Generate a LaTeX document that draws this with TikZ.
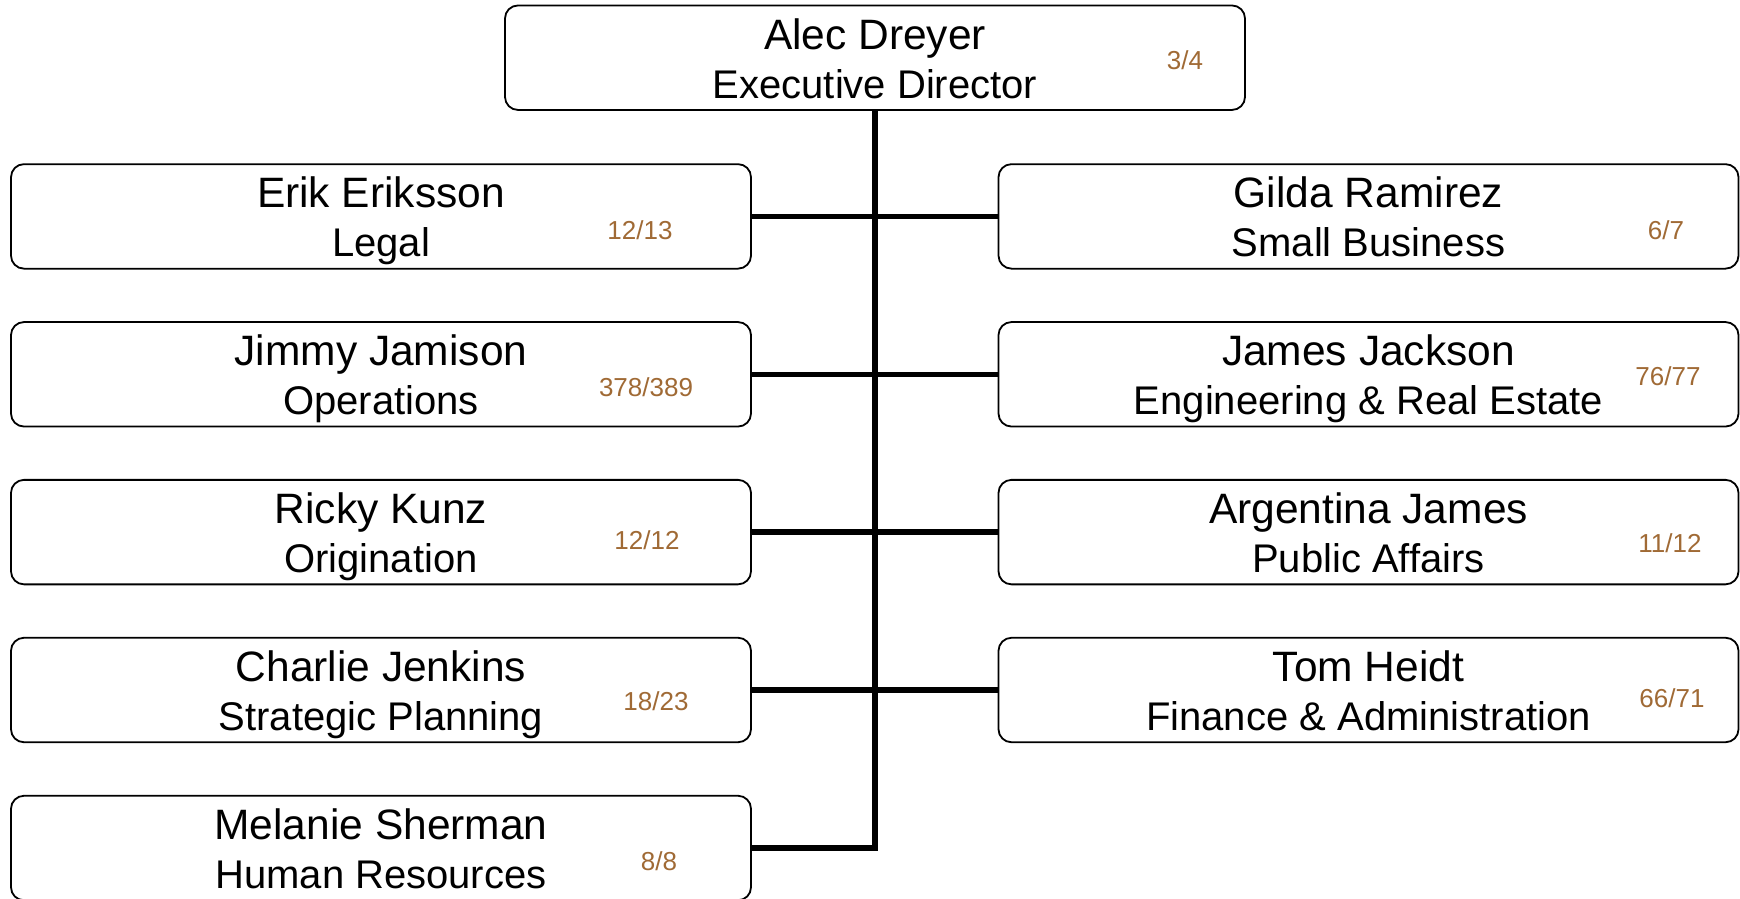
\documentclass[tikz,border=0pt]{standalone}
\usepackage{fontspec}
\setmainfont{Liberation Sans}
\definecolor{numbrown}{HTML}{A06A35}
\newcommand{\entry}[2]{{\fontsize{42.5}{49}\selectfont\strut #1}\\\strut #2}
\begin{document}
\begin{tikzpicture}[x=1pt,y=-1pt,
  person/.style={draw=black, line width=1.8pt, rounded corners=13pt, fill=white,
    minimum width=740pt, minimum height=104.5pt, inner sep=0pt},
  words/.style={inner sep=0pt, align=center, yshift=-6pt, font=\fontsize{40}{49}\selectfont},
  count/.style={text=numbrown, inner sep=0pt, font=\fontsize{26}{30}\selectfont},
  link/.style={line width=5.5pt}]
\useasboundingbox (0,0) rectangle (1740,898);
\fill[white] (0,0) rectangle (1740,898);
\node[person] (top) at (875,57.7) {};
\node[person] (L1) at (381,216.4) {};
\node[person] (L2) at (381,374.3) {};
\node[person] (L3) at (381,532.1) {};
\node[person] (L4) at (381,690) {};
\node[person] (L5) at (381,848) {};
\node[person] (R1) at (1368.5,216.4) {};
\node[person] (R2) at (1368.5,374.3) {};
\node[person] (R3) at (1368.5,532.1) {};
\node[person] (R4) at (1368.5,690) {};
\node[words] (ttop) at (top.center) {\entry{Alec Dreyer}{Executive Director}};
\node[words] (tL1) at (L1.center) {\entry{Erik Eriksson}{Legal}};
\node[words] (tL2) at (L2.center) {\entry{Jimmy Jamison}{Operations}};
\node[words] (tL3) at (L3.center) {\entry{Ricky Kunz}{Origination}};
\node[words] (tL4) at (L4.center) {\entry{Charlie Jenkins}{Strategic Planning}};
\node[words] (tL5) at (L5.center) {\entry{Melanie Sherman}{Human Resources}};
\node[words] (tR1) at (R1.center) {\entry{Gilda Ramirez}{Small Business}};
\node[words] (tR2) at (R2.center) {\entry{James Jackson}{Engineering \& Real Estate}};
\node[words] (tR3) at (R3.center) {\entry{Argentina James}{Public Affairs}};
\node[words] (tR4) at (R4.center) {\entry{Tom Heidt}{Finance \& Administration}};
\node[count] (ctop) at (1185,60) {3/4};
\node[count] (cL1) at (640,230) {12/13};
\node[count] (cL2) at (646,387) {378/389};
\node[count] (cL3) at (647,540) {12/12};
\node[count] (cL4) at (656,701) {18/23};
\node[count] (cL5) at (659,861) {8/8};
\node[count] (cR1) at (1666,230) {6/7};
\node[count] (cR2) at (1668,376) {76/77};
\node[count] (cR3) at (1670,543) {11/12};
\node[count] (cR4) at (1672,698) {66/71};
\draw[link] (top.south) |- (L5.east);
\draw[link] (L1.east) -- (R1.west);
\draw[link] (L2.east) -- (R2.west);
\draw[link] (L3.east) -- (R3.west);
\draw[link] (L4.east) -- (R4.west);
\end{tikzpicture}
\end{document}
